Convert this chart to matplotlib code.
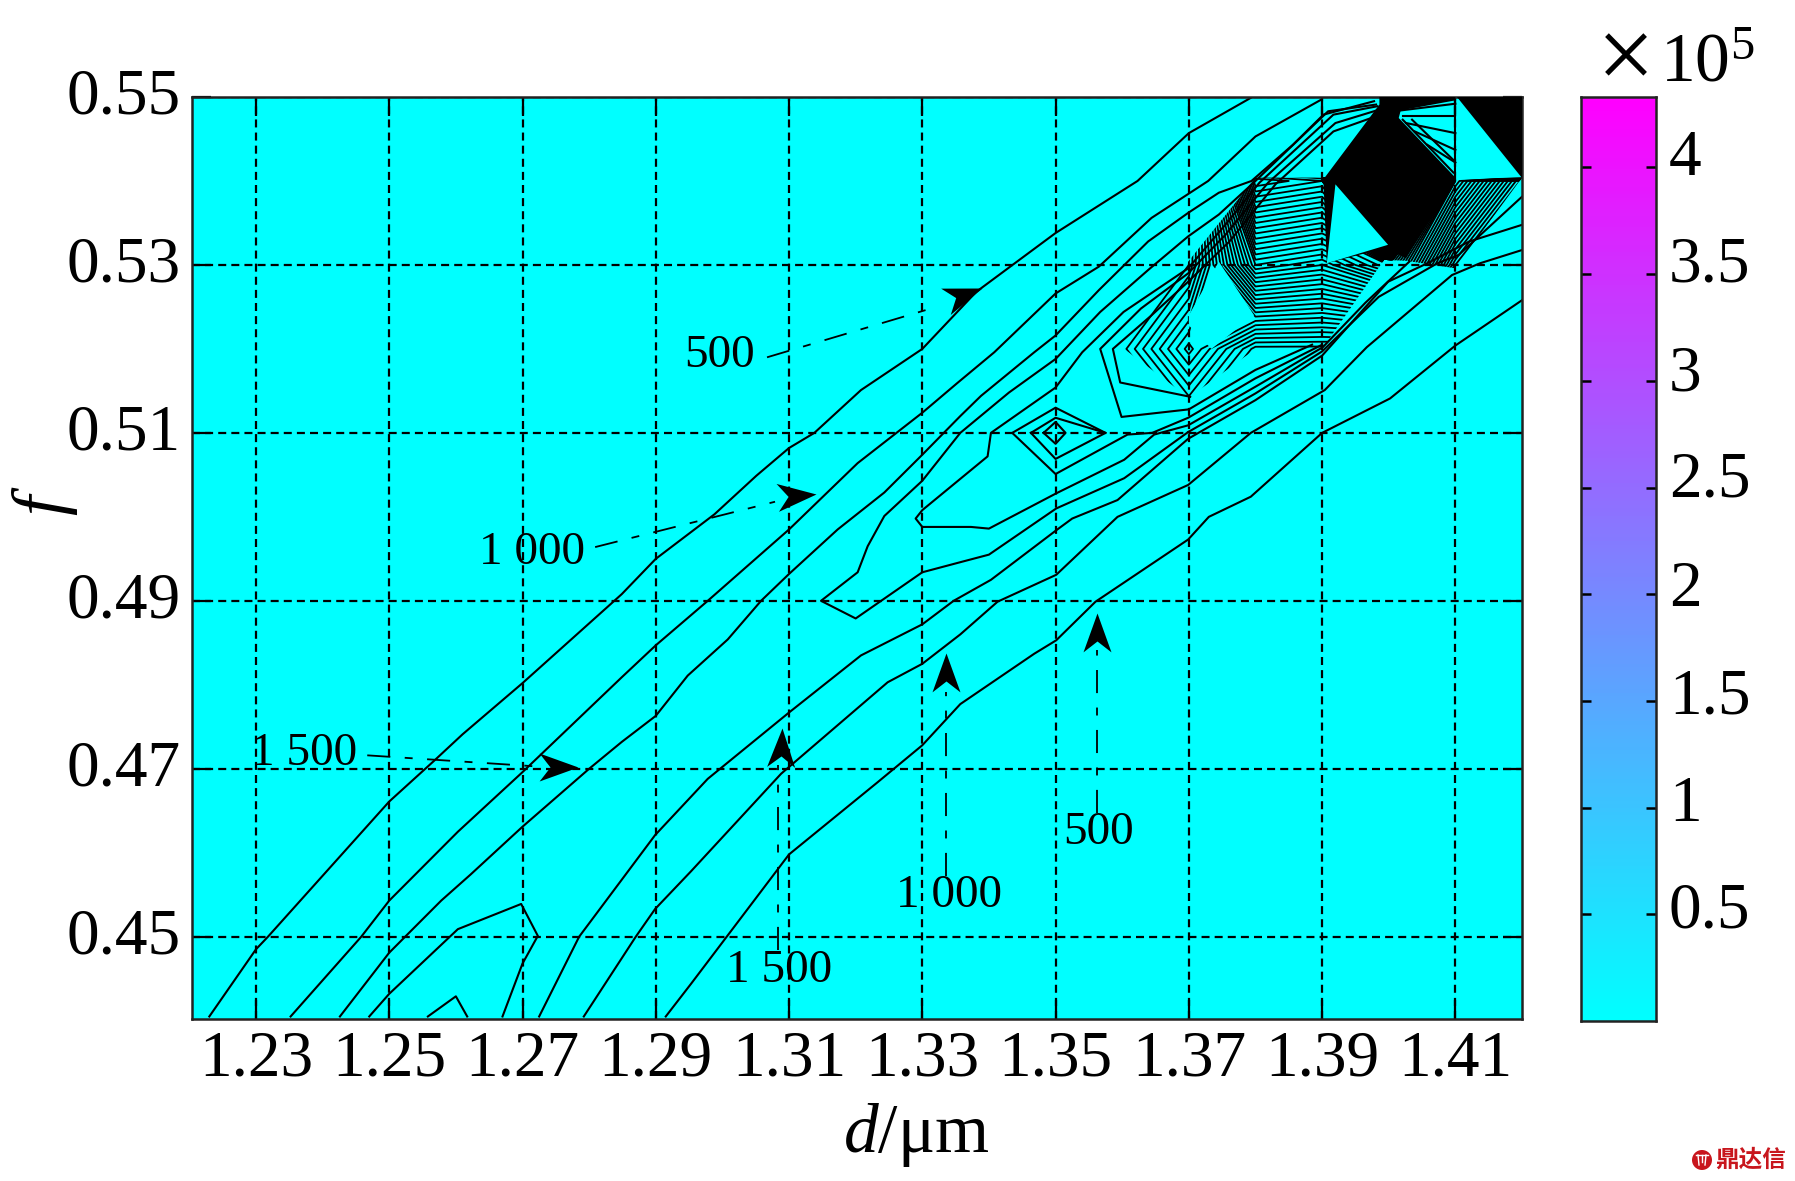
import numpy as np
import matplotlib
matplotlib.use("Agg")
import matplotlib.pyplot as plt
from matplotlib.lines import Line2D
from matplotlib.markers import MarkerStyle
from matplotlib.patches import Ellipse, Polygon
from matplotlib.path import Path
from matplotlib.transforms import Affine2D, ScaledTranslation

plt.rcParams['font.family'] = ['Liberation Serif', 'DejaVu Serif']
plt.rcParams['mathtext.fontset'] = 'custom'
plt.rcParams['mathtext.rm'] = 'Liberation Serif'
plt.rcParams['mathtext.it'] = 'Liberation Serif:italic'

d_ticks = [1.23, 1.25, 1.27, 1.29, 1.31, 1.33, 1.35, 1.37, 1.39, 1.41]
f_ticks = [0.45, 0.47, 0.49, 0.51, 0.53, 0.55]
cbar_ticks = [0.5, 1, 1.5, 2, 2.5, 3, 3.5, 4]
cbar_labels = ['0.5', '1', '1.5', '2', '2.5', '3', '3.5', '4']
cbar_label_pos = [0.51, 1.01, 1.515, 2.02, 2.53, 3.03, 3.54, 4.04]

# contour lines, (d, f)
line_a = [(1.223, .4405), (1.23, .4485), (1.2318, .45), (1.25, .4661), (1.2568, .471), (1.261, .4741),
          (1.27, .4802), (1.2849, .4908), (1.29, .495), (1.2988, .5003), (1.3051, .5049), (1.31, .5082),
          (1.3138, .51), (1.3208, .5151), (1.33, .52), (1.3381, .5268),
          (1.35, .5338), (1.3623, .54), (1.37, .5457), (1.3793, .5499)]
line_b = [(1.2352, .4405), (1.2458, .45), (1.25, .4543), (1.2603, .4625), (1.27, .4696), (1.2849, .4809),
          (1.29, .4847), (1.2978, .49), (1.31, .4985), (1.3203, .5064), (1.33, .5124), (1.3352, .5159),
          (1.3408, .5196), (1.35, .5266), (1.3565, .5298), (1.3644, .5356), (1.3729, .54), (1.38, .5453),
          (1.3899, .5497)]
line_c = [(1.2426, .4405), (1.25, .4481), (1.2578, .4543), (1.2622, .4574), (1.27, .4631), (1.28, .47),
          (1.2849, .4732), (1.29, .4763), (1.2948, .4811), (1.3008, .4854), (1.3058, .49), (1.31, .4932),
          (1.3173, .4985), (1.3243, .5029), (1.33, .5074), (1.3357, .512), (1.3388, .5144),
          (1.3468, .5196), (1.35, .5216), (1.3565, .527), (1.3639, .5328), (1.3699, .5362), (1.3745, .5386),
          (1.3794, .54), (1.3856, .5443), (1.3902, .5479), (1.3978, .5495)]
line_e = [(1.2725, .4405), (1.2785, .45), (1.2899, .4621), (1.2978, .4688), (1.31, .4767), (1.3208, .4835),
          (1.33, .4872), (1.3347, .49), (1.3403, .4925), (1.3501, .4984), (1.3525, .4998),
          (1.3593, .502), (1.3699, .5093), (1.38, .5139), (1.39, .5192), (1.3999, .528), (1.4058, .5302),
          (1.4121, .5328), (1.4201, .5348)]
line_g = [(1.2792, .4405), (1.287, .45), (1.2899, .4533), (1.2953, .4578), (1.3088, .4694), (1.3248, .4803),
          (1.33, .4825), (1.3357, .486), (1.3413, .4899), (1.3501, .4931), (1.3593, .5), (1.3699, .5038),
          (1.3793, .51), (1.3904, .5151), (1.3967, .5202), (1.4095, .5288), (1.4137, .5302), (1.4201, .5318)]
line_h = [(1.2915, .4405), (1.2953, .4444), (1.31, .4598), (1.3233, .4684), (1.33, .4728), (1.3357, .4777),
          (1.3468, .4837), (1.3501, .4853), (1.356, .4899), (1.3699, .4973), (1.373, .5), (1.3793, .5024),
          (1.39, .51), (1.4002, .5141), (1.41, .5204), (1.42, .5258)]
bump_outer = [(1.247, .4405), (1.25, .4432), (1.2603, .4509), (1.2698, .4539), (1.2723, .4501), (1.27, .4468),
              (1.267, .4405)]
bump_inner = [(1.2558, .4405), (1.26, .4429), (1.2617, .4405)]
lobe_long = [(1.3699, .5101), (1.3603, .5046), (1.3501, .501), (1.34, .4955), (1.3357, .4946), (1.33, .4934),
             (1.32, .4879), (1.3148, .49), (1.3203, .4934), (1.3218, .4965), (1.3243, .5001), (1.33, .5043),
             (1.3357, .51), (1.343, .5148), (1.35, .5188), (1.3567, .5244), (1.3639, .5294), (1.3699, .5334),
             (1.3745, .536), (1.38, .54), (1.3909, .5483), (1.3981, .5491)]
lobe_long_right = [(1.3699, .5101), (1.38, .5147), (1.39, .5197), (1.3985, .5262), (1.4073, .5302),
                   (1.4105, .5312), (1.4201, .5382)]
lobe_mid = [(1.4031, .5304), (1.3965, .5255), (1.3901, .5202), (1.38, .5155), (1.3699, .5109), (1.3648, .5098),
            (1.3603, .5068), (1.3501, .5028), (1.34, .4986), (1.3373, .4988), (1.33, .4988), (1.329, .4998),
            (1.33, .5008), (1.3398, .5072), (1.3403, .51), (1.35, .5154), (1.354, .5196), (1.3602, .5244),
            (1.3699, .5296), (1.3755, .5348), (1.3806, .5398), (1.3917, .5479), (1.3983, .5489)]
lobe_up1 = [(1.3885, .5205), (1.38, .5175), (1.37, .5128), (1.3599, .5119), (1.3567, .52), (1.3628, .5248),
            (1.3699, .529), (1.3755, .5336), (1.3819, .5398), (1.392, .5469), (1.3986, .5485)]
lobe_up2 = [(1.3702, .5143), (1.3597, .516), (1.3586, .52), (1.3644, .524), (1.3699, .528), (1.3761, .5328),
            (1.383, .5396), (1.3917, .5459), (1.3988, .5479)]
diamond_top = [(1.3575, .51), (1.35, .513), (1.3435, .51), (1.35, .5051), (1.3608, .5098), (1.3645, .51),
               (1.3699, .5118), (1.38, .5165), (1.39, .5205)]
diamond_in = [(1.3463, .51), (1.35, .5118), (1.3575, .51), (1.35, .5069), (1.3463, .51)]
diamond_core = [(1.3482, .51), (1.35, .5113), (1.3515, .51), (1.35, .5087), (1.3482, .51)]
fan_left = [(1.4018, .5484), (1.4021, .5477), (1.4026, .5469), (1.4039, .5459), (1.4058, .5443)]
fan_right_f = [.5492, .5477, .5457, .5437, .5422]
fan_edge = [(1.41, .5496), (1.41, .5408)]
fan_diag1 = [(1.4021, .5473), (1.4097, .541)]
fan_diag2 = [(1.4035, .5473), (1.4097, .5425)]

all_lines = [line_a, line_b, line_c, line_e, line_g, line_h, bump_outer, bump_inner, lobe_long, lobe_long_right,
             lobe_mid, lobe_up1, lobe_up2, diamond_top, diamond_in, diamond_core, fan_edge, fan_diag1, fan_diag2]

# coarse height table for the dense part in the upper right
z_d = [1.36, 1.37, 1.38, 1.39, 1.40, 1.41, 1.42]
z_f = [0.50, 0.51, 0.52, 0.53, 0.54, 0.55]
z_500 = [0.1, 0.1, 0.1, 0.1, 0.1, 0.1, 0.1]
z_510 = [0.3, 1.5, 0.6, 0.4, 0.3, 0.2, 0.1]
z_520 = [1.5, 9.5, 1.5, 1.5, 1.0, 0.6, 0.3]
z_530 = [0.5, 2.0, 21.0, 19.0, 25.0, 2.0, 0.5]
z_540 = [0.2, 0.5, 37.0, 35.0, 400.0, 18.0, 1.5]
z_550 = [0.1, 0.1, 0.5, 2.0, 100.0, 1.0, 400.0]

dense_clip = [(1.3603, .52), (1.37, .5142), (1.38, .52), (1.39, .52), (1.3993, .5306), (1.4026, .5305),
              (1.41, .5296), (1.42, .5404), (1.38, .5404), (1.3695, .53)]
black_main = [(1.3986, .55), (1.41, .55), (1.41, .5496), (1.4018, .5484), (1.4015, .5475), (1.41, .5404),
              (1.4026, .5308), (1.3994, .532), (1.3907, .5302), (1.3902, .5402), (1.3986, .5491)]
black_corner = [(1.4103, .55), (1.42, .55), (1.42, .5403)]
cyan_kite = [(1.3745, .5304), (1.3798, .524), (1.3734, .52), (1.37, .5228), (1.37, .524)]
cyan_tri = [(1.392, .5396), (1.3999, .5324), (1.3907, .5302)]

# annotations: label, label pos, leader start, leader end, arrow tip, arrow angle
ann_text = ['500', '1 000', '1 500', '1 500', '1 000', '500']
ann_label = [(1.2995, .5192), (1.2715, .4957), (1.2372, .4718), (1.3085, .4459), (1.334, .4549), (1.3565, .4624)]
ann_start = [(1.3067, .519), (1.2809, .4964), (1.2467, .4716), (1.3084, .4484), (1.3336, .4572), (1.3562, .4647)]
ann_end = [(1.3321, .525), (1.3079, .5018), (1.2717, .4703), (1.3084, .4705), (1.3336, .4791), (1.3562, .4841)]
ann_tip = [(1.339, .5272), (1.314, .5027), (1.2783, .4702), (1.309, .4748), (1.3336, .4838), (1.3562, .4886)]
ann_angle = [20, 5, 0, 88, 90, 90]

W, H = 1795, 1181
fig = plt.figure(figsize=(W / 100, H / 100), dpi=100, facecolor='white')
ax = fig.add_axes([192 / W, (H - 1019) / H, (1522 - 192) / W, (1019 - 97) / H])
ax.set_facecolor('#00ffff')
ax.set_xlim(1.2204, 1.42)
ax.set_ylim(0.4402, 0.55)
ax.set_xticks(d_ticks)
ax.set_xticklabels([f'{v:.2f}' for v in d_ticks])
ax.set_yticks(f_ticks)
ax.set_yticklabels([f'{v:.2f}' for v in f_ticks])
ax.tick_params(axis='both', direction='in', length=14, width=1.6, labelsize=47, pad=8,
               top=True, right=True)
up = ScaledTranslation(0, 6 / 100, fig.dpi_scale_trans)
for lab in ax.get_yticklabels():
    lab.set_transform(lab.get_transform() + up)
ax.grid(True, color='black', linestyle=(0, (3.6, 2.3)), linewidth=1.6, zorder=1)
ax.set_axisbelow(True)
for s in ax.spines.values():
    s.set_linewidth(1.8)
    s.set_color('#222222')

# dense part first, the solid shapes go on top of it
z = np.array([z_500, z_510, z_520, z_530, z_540, z_550])
cs = ax.contour(z_d, z_f, z, levels=np.arange(1, 400), colors='black', linewidths=1.3, zorder=2)
cs.set_clip_path(Polygon(dense_clip, transform=ax.transData))
for poly, col in [(black_main, 'black'), (black_corner, 'black'), (cyan_kite, '#00ffff'), (cyan_tri, '#00ffff')]:
    ax.fill(*zip(*poly), color=col, lw=0, zorder=3)

for ln in all_lines:
    ax.plot(*zip(*ln), color='black', lw=1.5, zorder=2.5, solid_joinstyle='round')
for (d0, f0), f1 in zip(fan_left, fan_right_f):
    ax.plot([d0, 1.41], [f0, f1], color='black', lw=1.5, zorder=2.5)

head = Path([(0, 0), (-1, .36), (-.72, 0), (-1, -.36), (0, 0)], closed=True)
for txt, lp, st, en, tip, ang in zip(ann_text, ann_label, ann_start, ann_end, ann_tip, ann_angle):
    ax.plot([st[0], en[0]], [st[1], en[1]], color='black', lw=1.3, linestyle=(0, (12.8, 8, 4.4, 8)), zorder=4)
    ax.plot([tip[0]], [tip[1]], marker=MarkerStyle(head, transform=Affine2D().rotate_deg(ang)), ms=56,
            color='black', mew=0, zorder=4)
    ax.text(lp[0], lp[1], txt, fontsize=34, ha='center', va='center', zorder=5)

fig.text(916 / W, 1 - 1135 / H, r'$\mathit{d}$/μm', fontsize=50, ha='center', va='center')
fig.text(44 / W, 1 - 505 / H, 'f', fontsize=52, style='italic', rotation=90, ha='center', va='center')

cax = fig.add_axes([1581 / W, (H - 1021) / H, (1656 - 1581) / W, (1021 - 97) / H])
grad = np.linspace(0, 1, 256).reshape(-1, 1)
cax.imshow(grad, cmap='cool', aspect='auto', origin='lower', extent=[0, 1, 0, 4.33])
cax.set_xticks([])
cax.set_yticks(cbar_ticks)
cax.set_yticklabels([])
cax.tick_params(axis='y', direction='in', length=7, width=1.8, left=True, right=True)
for s in cax.spines.values():
    s.set_linewidth(1.8)
    s.set_color('#222222')
for lab, pos in zip(cbar_labels, cbar_label_pos):
    cax.text(1.17, pos, lab, fontsize=47, ha='left', va='center')

fig.text(1626 / W, 1 - 64 / H, '×', fontsize=74, ha='center', va='center')
fig.text(1660 / W, 1 - 81 / H, r'$\mathrm{10}^{\mathrm{5}}$', fontsize=50, ha='left', va='baseline')

# watermark in the lower right corner
fig.add_artist(Ellipse((1702 / W, 1 - 1160 / H), 20 / W, 20 / H, transform=fig.transFigure,
                       facecolor='#c8161d', edgecolor='none'))
for x0, y0, x1, y1 in [(1696, 1155, 1708, 1155), (1698, 1155, 1699, 1165), (1706, 1155, 1705, 1165),
                       (1702, 1155, 1702, 1162)]:
    fig.add_artist(Line2D([x0 / W, x1 / W], [1 - y0 / H, 1 - y1 / H], color='white', lw=1,
                          transform=fig.transFigure))
fig.text(1786 / W, 1 - 1160 / H, '鼎达信', fontsize=17, fontweight='bold', color='#c8161d',
         family=['Noto Sans CJK SC', 'DejaVu Sans'], ha='right', va='center')
fig.savefig('out.png', dpi=100)
